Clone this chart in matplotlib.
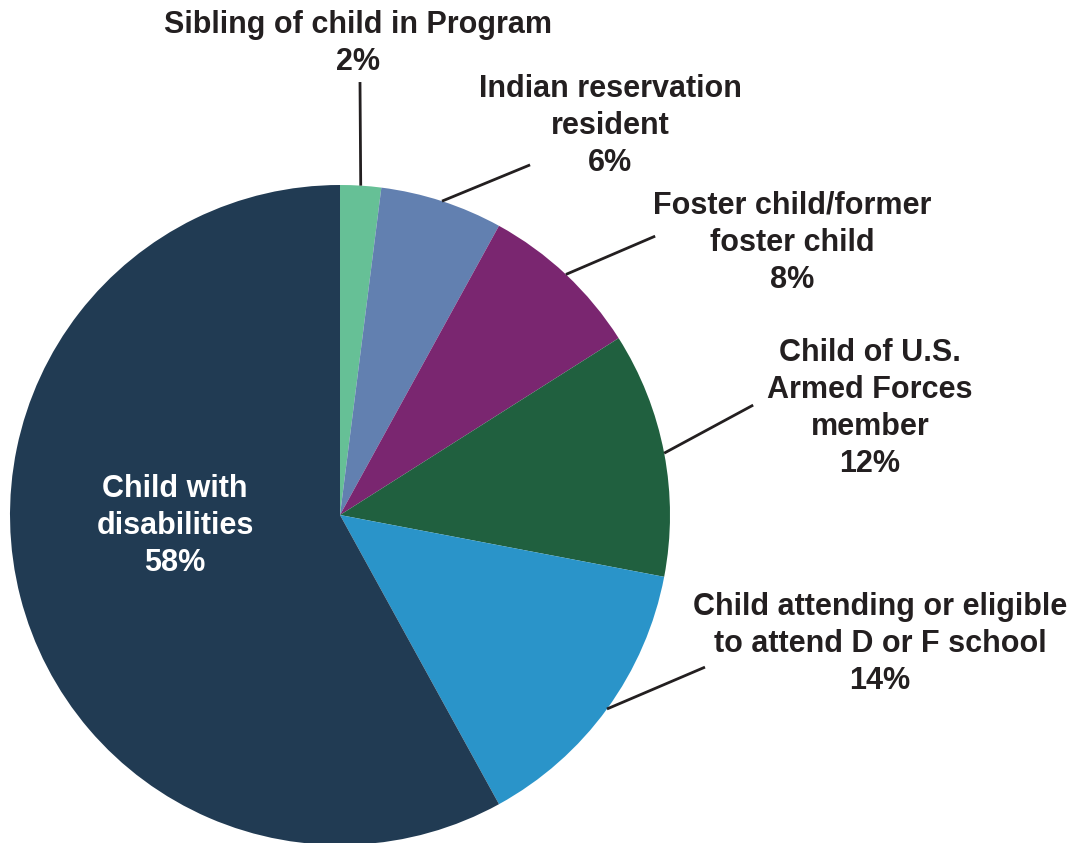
import numpy as np
import matplotlib
matplotlib.use("Agg")
import matplotlib.pyplot as plt

plt.rcParams['font.family'] = ['Liberation Sans', 'DejaVu Sans']

labels = ["Sibling of child in Program",
          "Indian reservation\nresident",
          "Foster child/former\nfoster child",
          "Child of U.S.\nArmed Forces\nmember",
          "Child attending or eligible\nto attend D or F school",
          "Child with\ndisabilities"]
shares = [2, 6, 8, 12, 14, 58]
colors = ["#66c096", "#6280b0", "#7a2670", "#20603f", "#2a94c9", "#213b53"]

# label block centre and leader line end, in pie radius units (None = inside)
text_pos = [(0.055, 1.430), (0.818, 1.178), (1.370, 0.825),
            (1.606, 0.323), (1.636, -0.392), (-0.50, -0.033)]
line_end = [(0.0606, 1.312), (0.576, 1.061), (0.955, 0.845),
            (1.252, 0.333), (1.106, -0.461), None]

fig = plt.figure(figsize=(10.73, 8.43), dpi=100)
ax = fig.add_axes([0, 0, 1, 1])
ax.pie(shares, colors=colors, startangle=90, counterclock=False,
       radius=1, center=(0, 0), wedgeprops=dict(linewidth=0))
ax.set_xlim(-340 / 330, (1073 - 340) / 330)
ax.set_ylim((515 - 843) / 330, 515 / 330)
ax.set_aspect('auto')
ax.axis('off')

start = 90
for lab, v, tp, le in zip(labels, shares, text_pos, line_end):
    mid = np.deg2rad(start - v * 3.6 / 2)
    start -= v * 3.6
    txt = f"{lab}\n{v}%"
    if le is None:
        ax.text(tp[0], tp[1], txt, ha='center', va='center', fontsize=22,
                color='white', linespacing=1.3, fontweight='bold')
        continue
    ax.plot([np.cos(mid), le[0]], [np.sin(mid), le[1]], color='#231f20', lw=2,
            solid_capstyle='butt')
    ax.text(tp[0], tp[1], txt, ha='center', va='center', fontsize=22,
            color='#231f20', linespacing=1.3, fontweight='bold')

fig.savefig("out.png", dpi=100)
